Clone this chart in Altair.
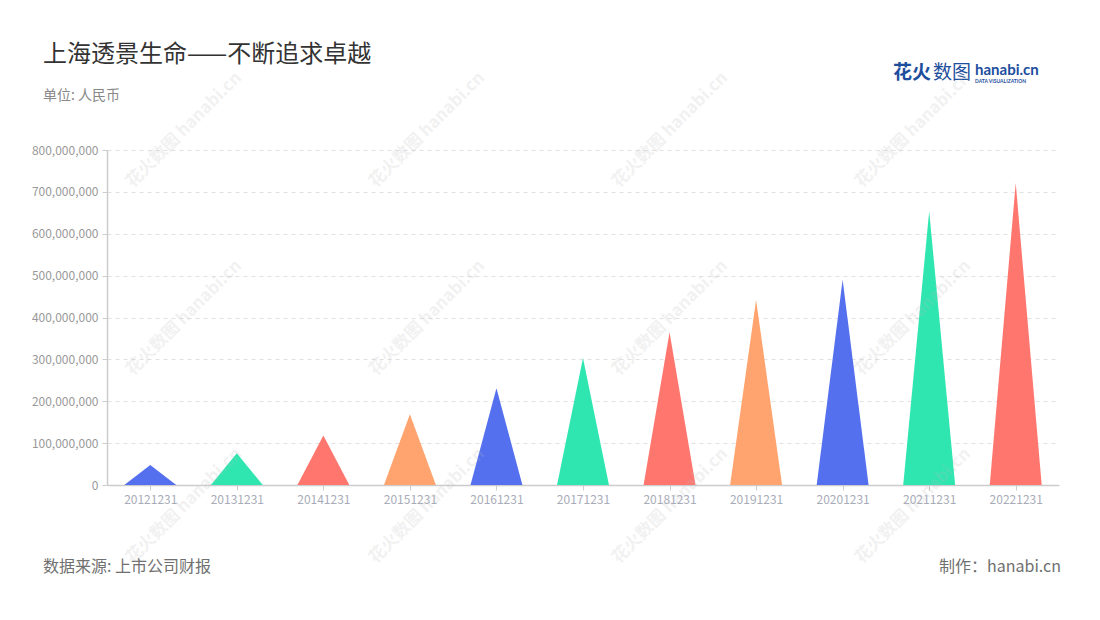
import altair as alt
import pandas as pd

# ---- data ----
periods = ["20121231", "20131231", "20141231", "20151231", "20161231", "20171231",
           "20181231", "20191231", "20201231", "20211231", "20221231"]
revenue = [48_000_000, 76_000_000, 118_000_000, 169_000_000, 231_000_000, 303_000_000,
           365_000_000, 442_000_000, 490_000_000, 654_000_000, 721_000_000]
palette = ["#5470ee", "#2fe6b1", "#ff766f", "#ffa36f"]

title_text = "上海透景生命——不断追求卓越"
unit_text = "单位: 人民币"
source_text = "数据来源: 上市公司财报"
maker_text = "制作：hanabi.cn"
watermark_text = "花火数图 hanabi.cn"

FONT = "Noto Sans CJK SC"
half = 0.3

rows = []
for i, (p, v) in enumerate(zip(periods, revenue)):
    for dx, val in ((-half, 0), (0, v), (half, 0)):
        rows.append({"period": p, "idx": i + dx, "value": val, "k": i})
df = pd.DataFrame(rows)

label_expr = "[" + ",".join(f"'{p}'" for p in periods) + "][datum.value]"

x_scale = alt.Scale(domain=[-0.5, len(periods) - 0.5], nice=False, zero=False)
y_scale = alt.Scale(domain=[0, 800_000_000], nice=False)

area = alt.Chart(df).mark_area(opacity=1, interpolate="linear").encode(
    x=alt.X("idx:Q", scale=x_scale, title=None,
            axis=alt.Axis(values=list(range(len(periods))), labelExpr=label_expr,
                          grid=False, domainColor="#cccccc", domainWidth=1.5,
                          tickColor="#cccccc", tickSize=5, labelColor="#a8acb8",
                          labelFont=FONT, labelFontSize=12, labelPadding=4)),
    y=alt.Y("value:Q", scale=y_scale, stack=None, title=None,
            axis=alt.Axis(values=list(range(0, 800_000_001, 100_000_000)), format=",d",
                          grid=True, gridDash=[4, 4], gridColor="#e0e0e0",
                          domainColor="#cccccc", domainWidth=1.5, tickColor="#cccccc",
                          tickSize=5, labelColor="#999999", labelFont=FONT,
                          labelFontSize=12, labelPadding=4)),
    detail="period:N",
    color=alt.Color("k:N", legend=None,
                    scale=alt.Scale(domain=list(range(len(periods))),
                                    range=[palette[i % 4] for i in range(len(periods))])),
)

one = alt.Data(values=[{}])

def txt(text, x, y, size, color, align="left", weight="normal", font=FONT,
        angle=0, opacity=1.0, baseline="middle"):
    return alt.Chart(one).mark_text(
        align=align, baseline=baseline, fontSize=size, color=color,
        font=font, fontWeight=weight, angle=angle, opacity=opacity
    ).encode(x=alt.value(x), y=alt.value(y), text=alt.value(text))

texts = [
    txt(title_text, -64, -95, 24, "#333333"),
    txt(unit_text, -64, -54, 14, "#888888"),
    txt(source_text, -64, 417, 16, "#707070"),
    txt(maker_text, 954, 417, 16, "#707070", align="right"),
    txt("花火", 786, -77, 19, "#1e4e9e", weight="bold"),
    txt("数图", 826, -77, 19, "#1e4e9e"),
    txt("hanabi.cn", 868, -80, 15, "#1e4e9e", weight="bold", font="Lato"),
    txt("DATA VISUALIZATION", 868, -69, 5, "#1e4e9e", weight="bold", font="Lato"),
]

wm_cols = [77, 320, 563, 806]
wm_rows = [-20, 168, 356]
watermarks = [
    txt(watermark_text, cx, cy, 17, "#b8b8b8", align="center", weight="bold",
        angle=315, opacity=0.18)
    for cx in wm_cols for cy in wm_rows
]

chart = alt.layer(area, *texts, *watermarks).properties(
    width=952, height=335,
    padding={"left": 99, "top": 142, "right": 33, "bottom": 100},
    autosize=alt.AutoSizeParams(type="none"),
).configure(background="white").configure_view(stroke=None)

chart.save("out.html", embed_options={"renderer": "svg", "actions": False})
